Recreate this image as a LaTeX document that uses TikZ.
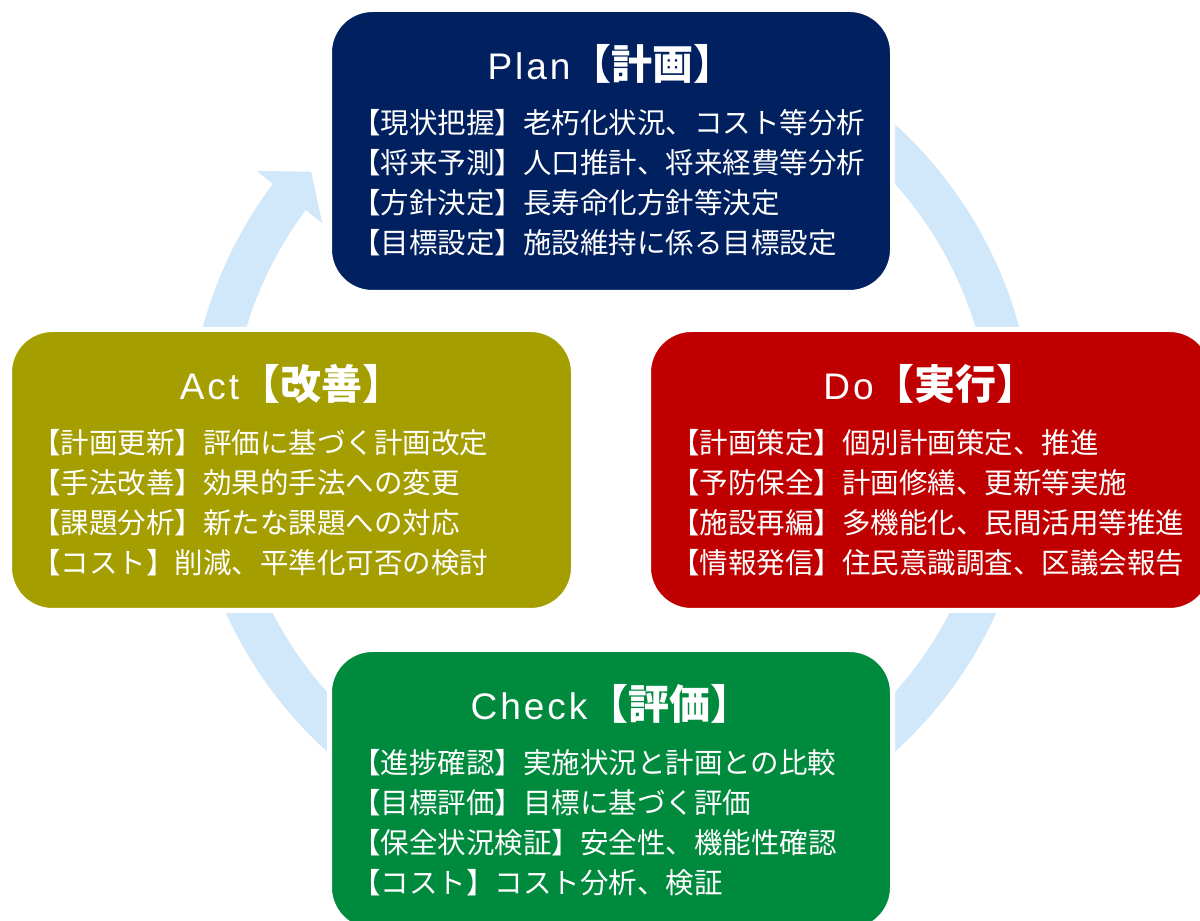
\documentclass[tikz,border=0pt]{standalone}
\usepackage{fontspec}
\setmainfont{Noto Sans CJK JP}
\newfontfamily\latinfont{Liberation Sans}[LetterSpace=8]
\usetikzlibrary{positioning}

\definecolor{plancol}{RGB}{0,32,96}
\definecolor{docol}{RGB}{192,0,0}
\definecolor{checkcol}{RGB}{0,138,62}
\definecolor{actcol}{RGB}{165,158,0}
\definecolor{ringcol}{RGB}{209,231,250}

\tikzset{
	phase/.style={draw=white,line width=5pt,rounded corners=43pt,outer sep=0pt,inner sep=0pt,
		minimum width=564pt,minimum height=281pt},
	phasetitle/.style={text=white,inner sep=0pt,anchor=base,font=\fontsize{37}{44}\selectfont},
	phasebody/.style={text=white,inner sep=0pt,anchor=north west,align=left,font=\fontsize{28.5}{40}\selectfont},
}

\begin{document}
\begin{tikzpicture}[x=1pt,y=1pt]
	\useasboundingbox (0,0) rectangle (1200,921);
	\clip (0,0) rectangle (1200,921);
	\coordinate (O) at (611,483);
	% cycle ring behind the boxes
	\draw[ringcol,line width=42pt,shift={(O)}] (70:402) arc[start angle=70,end angle=-217.5,radius=402];
	\fill[ringcol,shift={(O)}] (143:444) -- (138.4:401) -- (143.35:360) -- cycle;
	% the four phases
	\node[phase,fill=plancol,minimum width=563pt,minimum height=283pt] (plan) at (611,770) {};
	\node[phase,fill=docol] (do) at (930.5,451) {};
	\node[phase,fill=checkcol,minimum width=563pt] (check) at (611,131) {};
	\node[phase,fill=actcol] (act) at (291.5,451) {};
	\node[phasetitle] (plan-title) at ([yshift=-70.5]plan.north) {{\latinfont Plan}{\bfseries\fontsize{41}{48}\selectfont 【計画】}};
	\node[phasebody] (plan-body) at ([xshift=22.5,yshift=-99.5]plan.north west)
		{【現状把握】老朽化状況、コスト等分析\\【将来予測】人口推計、将来経費等分析\\【方針決定】長寿命化方針等決定\\【目標設定】施設維持に係る目標設定};
	\node[phasetitle] (do-title) at ([yshift=-70.5]do.north) {{\latinfont Do}{\bfseries\fontsize{41}{48}\selectfont 【実行】}};
	\node[phasebody] (do-body) at ([xshift=22.5,yshift=-99.5]do.north west)
		{【計画策定】個別計画策定、推進\\【予防保全】計画修繕、更新等実施\\【施設再編】多機能化、民間活用等推進\\【情報発信】住民意識調査、区議会報告};
	\node[phasetitle] (check-title) at ([yshift=-70.5]check.north) {{\latinfont Check}{\bfseries\fontsize{41}{48}\selectfont 【評価】}};
	\node[phasebody] (check-body) at ([xshift=22.5,yshift=-99.5]check.north west)
		{【進捗確認】実施状況と計画との比較\\【目標評価】目標に基づく評価\\【保全状況検証】安全性、機能性確認\\【コスト】コスト分析、検証};
	\node[phasetitle] (act-title) at ([yshift=-70.5]act.north) {{\latinfont Act}{\bfseries\fontsize{41}{48}\selectfont 【改善】}};
	\node[phasebody] (act-body) at ([xshift=22.5,yshift=-99.5]act.north west)
		{【計画更新】評価に基づく計画改定\\【手法改善】効果的手法への変更\\【課題分析】新たな課題への対応\\【コスト】削減、平準化可否の検討};
\end{tikzpicture}
\end{document}
